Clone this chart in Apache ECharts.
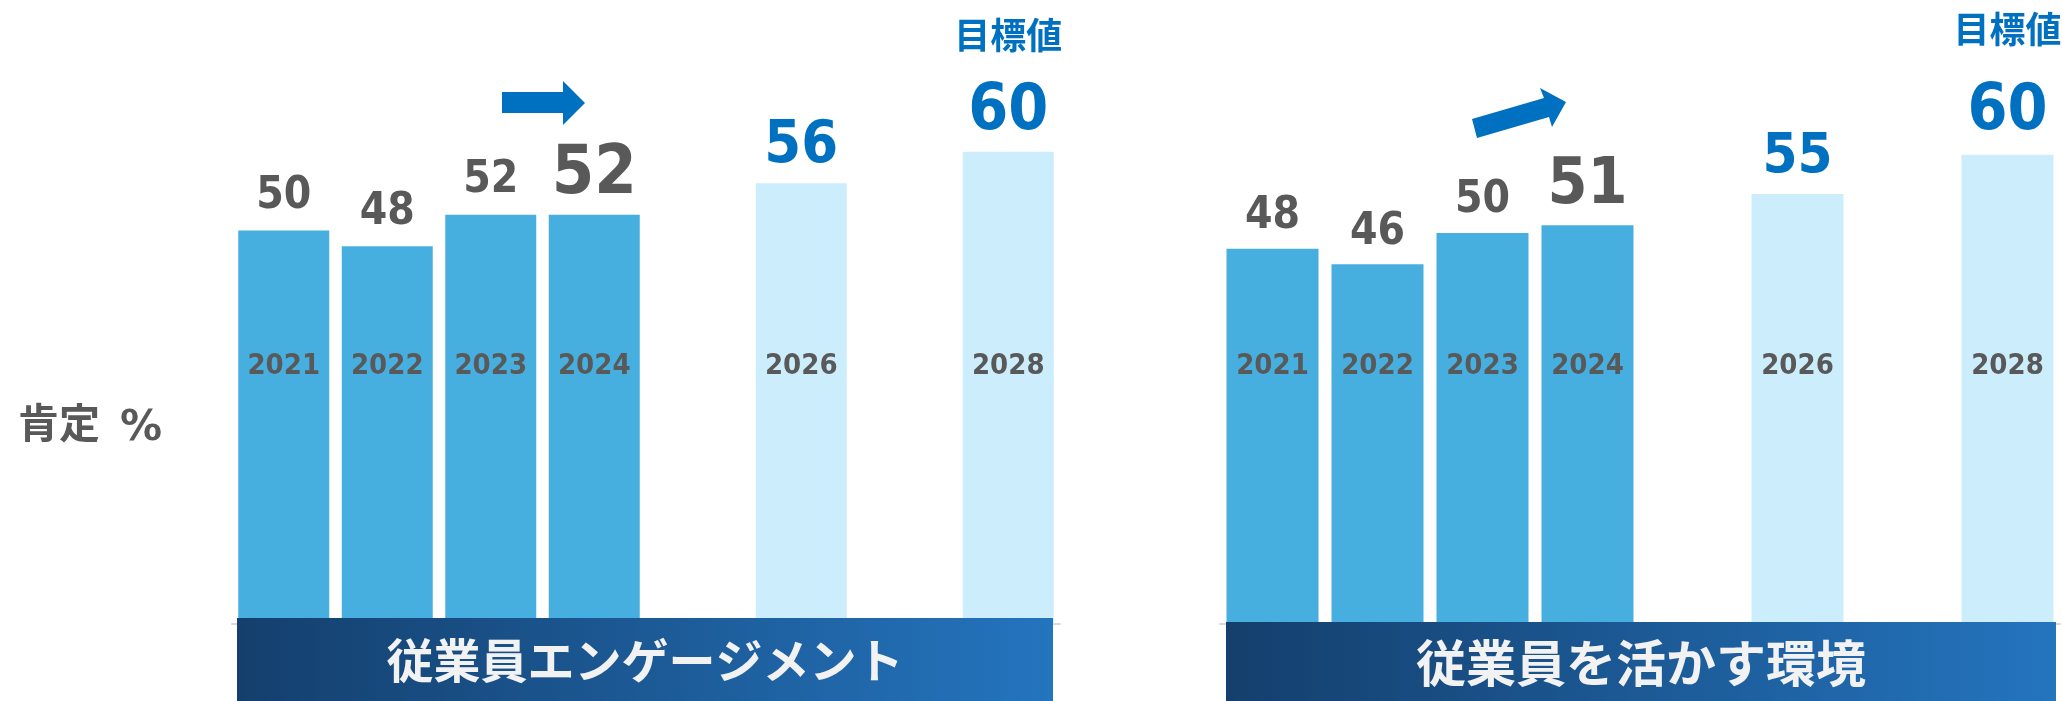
<!DOCTYPE html>
<html>
<head>
<meta charset="utf-8">
<script src="https://cdn.jsdelivr.net/npm/echarts@6/dist/echarts.min.js"></script>
<style>
html,body{margin:0;padding:0;background:#fff;}
#chart{width:2062px;height:701px;}
</style>
</head>
<body>
<div id="chart"></div>
<script>
// ---- data ----
const years = ['2021','2022','2023','2024','2025','2026','2027','2028'];
const engagementValues  = [50, 48, 52, 52, null, 56, null, 60];
const environmentValues = [48, 46, 50, 51, null, 55, null, 60];
const panelTitles = ['従業員エンゲージメント', '従業員を活かす環境'];
const goalText = '目標値';
const unitWord = '肯定';
const unitSign = '%';
const latestYear = '2024';
const goalYear = '2028';

// ---- styles ----
const NUM_FONT = "'DejaVu Sans Condensed','DejaVu Sans',sans-serif";
const CJK_FONT = "'Noto Sans CJK JP','Noto Sans',sans-serif";
const GRAY = '#595959';
const BLUE = '#0070c0';
const ACTUAL_COLOR = '#47afdf';
const TARGET_COLOR = '#ccedfc';

const panels = [
  {values: engagementValues, grid: {left: 232, width: 828, top: 73, bottom: 77}, barWidth: 91,
   bigSize: 68, targetSize: 59, goalTitleLH: 91, goalDist: 7, dist: 12, bigDist: 5, targetDist: 7},
  {values: environmentValues, grid: {left: 1220, width: 840, top: 76.6, bottom: 77}, barWidth: 92,
   bigSize: 64, targetSize: 56, goalTitleLH: 103, goalDist: 10, dist: 10, bigDist: 7, targetDist: 8}
];

function buildData(p) {
  const latestIdx = years.indexOf(latestYear);
  return p.values.map(function (v, i) {
    if (v == null) return '-';
    const isTarget = i > latestIdx;
    const item = {value: v, itemStyle: {color: isTarget ? TARGET_COLOR : ACTUAL_COLOR}};
    if (i === latestIdx) {
      item.label = {fontSize: p.bigSize, distance: p.bigDist};
    } else if (years[i] === goalYear) {
      item.label = {
        distance: p.goalDist,
        formatter: function (prm) { return '{t|' + goalText + '}\n{v|' + prm.value + '}'; },
        rich: {
          t: {fontFamily: CJK_FONT, fontWeight: 'bold', fontSize: 36, color: BLUE, lineHeight: p.goalTitleLH},
          v: {fontFamily: NUM_FONT, fontWeight: 'bold', fontSize: 64, color: BLUE, lineHeight: 64}
        }
      };
    } else if (isTarget) {
      item.label = {fontSize: p.targetSize, color: BLUE, distance: p.targetDist};
    }
    return item;
  });
}

const option = {
  animation: false,
  backgroundColor: '#ffffff',
  grid: panels.map(p => Object.assign({containLabel: false}, p.grid)),
  xAxis: panels.map(function (p, gi) {
    return {
      type: 'category', gridIndex: gi, data: years, z: 3,
      axisTick: {show: false},
      axisLine: {show: true, lineStyle: {color: '#d9d9d9', width: 2}},
      axisLabel: {
        inside: true, margin: 243, color: GRAY, fontFamily: NUM_FONT, fontWeight: 'bold', fontSize: 29,
        interval: 0,
        formatter: function (val, idx) { return p.values[idx] == null ? '' : val; }
      }
    };
  }),
  yAxis: panels.map(function (p, gi) {
    return {type: 'value', gridIndex: gi, min: 0, max: 70, show: false, splitLine: {show: false}};
  }),
  series: panels.map(function (p, gi) {
    return {
      type: 'bar', xAxisIndex: gi, yAxisIndex: gi, barWidth: p.barWidth,
      data: buildData(p),
      label: {show: true, position: 'top', distance: p.dist, color: GRAY, fontFamily: NUM_FONT,
              fontWeight: 'bold', fontSize: 44}
    };
  }),
  graphic: []
};

function banner(x, y, w, h, text, size) {
  return [
    {type: 'rect', z: 100, shape: {x: x, y: y, width: w, height: h},
     style: {fill: new echarts.graphic.LinearGradient(0, 0, 1, 0, [
       {offset: 0, color: '#143f6d'}, {offset: 1, color: '#2474be'}])}},
    {type: 'text', z: 101, x: x + w / 2, y: y + h / 2 + 1,
     style: {text: text, fill: '#f2f2f2', font: 'bold ' + size + 'px ' + CJK_FONT,
             textAlign: 'center', textVerticalAlign: 'middle'}}
  ];
}

option.graphic.push.apply(option.graphic, banner(237, 618, 816, 83, panelTitles[0], 47));
option.graphic.push.apply(option.graphic, banner(1226, 622, 830, 79, panelTitles[1], 50));
option.graphic.push({type: 'text', x: 18, y: 422, z: 100,
  style: {text: unitWord, fill: GRAY, font: 'bold 41px ' + CJK_FONT, textVerticalAlign: 'middle'}});
option.graphic.push({type: 'text', x: 120, y: 429, z: 100,
  style: {text: unitSign, fill: GRAY, font: "bold 42px 'DejaVu Sans',sans-serif", textVerticalAlign: 'middle'}});
// decorative trend arrows
option.graphic.push({type: 'polygon', z: 100,
  shape: {points: [[502,92],[563,92],[563,81],[585,103],[563,125],[563,113],[502,113]]},
  style: {fill: BLUE}});
option.graphic.push({type: 'polygon', z: 100,
  shape: {points: [[1472,119],[1544,98],[1540,88],[1566,102],[1552,127],[1549,117],[1477,138]]},
  style: {fill: BLUE}});

const chart = echarts.init(document.getElementById('chart'), null, {renderer: 'canvas'});
chart.setOption(option);
</script>
</body>
</html>
